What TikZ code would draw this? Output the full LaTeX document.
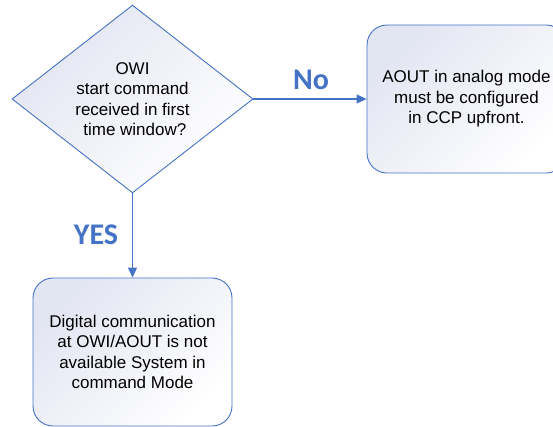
\documentclass[tikz,border=0pt]{standalone}
\usepackage{fontspec}
\setmainfont{Liberation Sans}
\newfontfamily\lblfont{Carlito}[BoldFont={Carlito Bold}]
\usetikzlibrary{shapes.geometric,arrows.meta}
\definecolor{lineblue}{HTML}{4472C4}
\definecolor{fillgrey}{HTML}{E2E5F2}
\tikzset{
  boxtext/.style={font=\fontsize{17}{20.5}\selectfont, align=center, text=black},
  decision/.style={diamond, draw=lineblue, line width=0.9pt, minimum width=241pt, minimum height=182pt, inner sep=0pt, top color=fillgrey, bottom color=white, shading angle=45, boxtext},
  procbox/.style={rectangle, rounded corners=20pt, draw=lineblue, line width=0.9pt, minimum width=199pt, minimum height=148pt, inner sep=0pt, top color=fillgrey, bottom color=white, shading angle=45, boxtext},
  flow/.style={draw=lineblue, line width=1.2pt, -{Triangle[length=10pt,width=9pt]}},
  lbl/.style={font=\lblfont\bfseries\fontsize{30}{32}\selectfont, text=lineblue}
}
\begin{document}
\begin{tikzpicture}[x=1pt,y=-1pt]
\useasboundingbox (0,0) rectangle (553,426);
\clip (0,0) rectangle (553,426);
\node[decision] (q) at (132.5,99) {OWI\\start command\\received in first\\\ time window?};
\node[procbox] (no) at (466.5,99) {AOUT in analog mode\\must be configured\\in CCP upfront.};
\node[procbox] (yes) at (132.5,352) {Digital communication\\at OWI/AOUT is not\\available System in\\command Mode};
\draw[flow] (q.east) -- (no.west);
\draw[flow] (q.south) -- (yes.north);
\node[lbl] (nolbl) at (311,80) {No};
\node[lbl] (yeslbl) at (96,235) {YES};
\end{tikzpicture}
\end{document}
